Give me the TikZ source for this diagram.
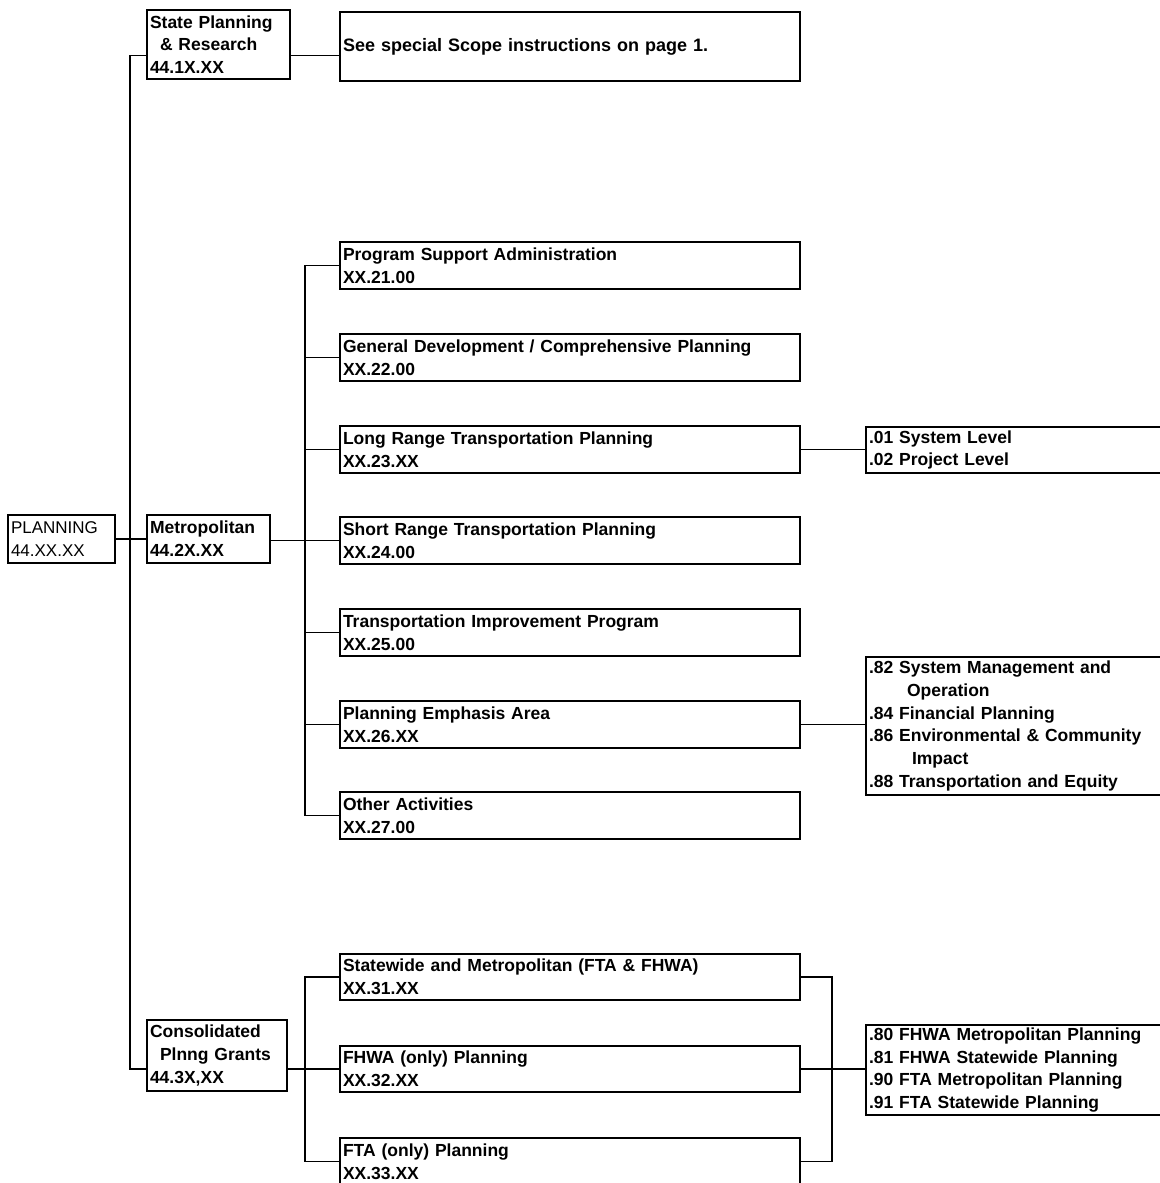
\documentclass[tikz,border=0pt]{standalone}
\usepackage{fontspec}
\setmainfont{Liberation Sans}
\begin{document}
\begin{tikzpicture}[x=1pt,y=-1pt,
  box/.style={draw, line width=1.6pt, anchor=north west, inner xsep=3pt, inner ysep=2pt, outer sep=0pt, align=left, font=\fontsize{17.5}{22.7}\selectfont\bfseries},
  link/.style={line width=1.8pt}]
\useasboundingbox (0,0) rectangle (1159,1183);
% level 1-2
\node[box, text width=137pt, minimum height=69pt] (state) at (147,10) {State Planning\\\hspace*{10pt}\& Research\\44.1X.XX};
\node[box, text width=454pt, minimum height=69pt, font=\fontsize{18}{22.7}\selectfont\bfseries] (scope) at (340,12) {See special Scope instructions on page 1.};
\node[box, text width=101pt, minimum height=48pt, font=\fontsize{17}{22.5}\selectfont] (planning) at (8,515) {PLANNING\\44.XX.XX};
\node[box, text width=117pt, minimum height=48pt] (metro) at (147,515) {Metropolitan\\44.2X.XX};
\node[box, text width=134pt, minimum height=71pt] (cons) at (147,1020) {Consolidated\\\hspace*{10pt}Plnng Grants\\44.3X,XX};
% metropolitan children
\node[box, text width=454pt, minimum height=47pt] (c1) at (340,242) {Program Support Administration\\XX.21.00};
\node[box, text width=454pt, minimum height=47pt] (c2) at (340,334) {General Development / Comprehensive Planning\\XX.22.00};
\node[box, text width=454pt, minimum height=47pt] (c3) at (340,426) {Long Range Transportation Planning\\XX.23.XX};
\node[box, text width=454pt, minimum height=47pt] (c4) at (340,517) {Short Range Transportation Planning\\XX.24.00};
\node[box, text width=454pt, minimum height=47pt] (c5) at (340,609) {Transportation Improvement Program\\XX.25.00};
\node[box, text width=454pt, minimum height=47pt] (c6) at (340,701) {Planning Emphasis Area\\XX.26.XX};
\node[box, text width=454pt, minimum height=47pt] (c7) at (340,792) {Other Activities\\XX.27.00};
% right boxes
\node[box, text width=294pt, minimum height=46pt] (lr) at (866,427) {.01 System Level\\.02 Project Level};
\node[box, text width=294pt, minimum height=138pt] (pea) at (866,657) {.82 System Management and\\\hspace*{38pt}Operation\\.84 Financial Planning\\.86 Environmental \& Community\\\hspace*{43pt}Impact\\.88 Transportation and Equity};
% consolidated children
\node[box, text width=454pt, minimum height=46pt] (g1) at (340,954) {Statewide and Metropolitan (FTA \& FHWA)\\XX.31.XX};
\node[box, text width=454pt, minimum height=46pt] (g2) at (340,1046) {FHWA (only) Planning\\XX.32.XX};
\node[box, text width=454pt, minimum height=47pt] (g3) at (340,1138) {FTA (only) Planning\\XX.33.XX};
\node[box, text width=294pt, minimum height=90pt] (fund) at (866,1025) {.80 FHWA Metropolitan Planning\\.81 FHWA Statewide Planning\\.90 FTA Metropolitan Planning\\.91 FTA Statewide Planning};
% connectors
\coordinate (tA) at ([yshift=-11pt]state.west);
\coordinate (tB) at (cons.west |- g2.west);
\draw[link] (tA) -- ++(-17,0) |- (tB);
\draw[link] (tA -| state.east) -- (tA -| scope.west);
\draw[link] (planning.east) -- (metro.west);
\draw[link] (c4.west -| metro.east) -- (c4.west);
\draw[link] (c1.west) -- ++(-35,0) |- (c7.west);
\foreach \n in {c2,c3,c5,c6} \draw[link] (\n.west) -- ++(-35,0);
\draw[link] (c3.east) -- (c3.east -| lr.west);
\draw[link] (c6.east) -- (c6.east -| pea.west);
\draw[link] (tB -| cons.east) -- (g2.west);
\draw[link] (g1.west) -- ++(-35,0) |- (g3.west);
\draw[link] (g1.east) -- ++(32,0) |- (g3.east);
\draw[link] (g2.east) -- (g2.east -| fund.west);
\end{tikzpicture}
\end{document}
